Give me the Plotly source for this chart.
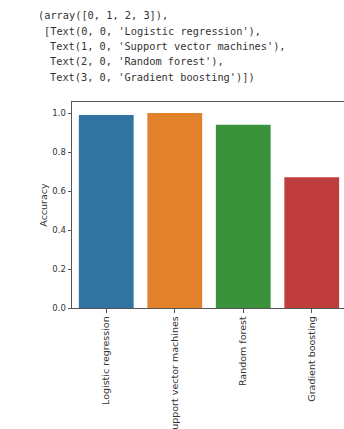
import plotly.graph_objects as go

models = ["Logistic regression", "Support vector machines", "Random forest", "Gradient boosting"]
accuracy = [0.99, 1.0, 0.94, 0.67]
colors = ["#3274a1", "#e1812c", "#3a923a", "#c03d3e"]
yticks = [0.0, 0.2, 0.4, 0.6, 0.8, 1.0]
output_lines = [
    "(array([0, 1, 2, 3]),",
    "[Text(0, 0, 'Logistic regression'),",
    "Text(1, 0, 'Support vector machines'),",
    "Text(2, 0, 'Random forest'),",
    "Text(3, 0, 'Gradient boosting')])",
]

W, H = 344, 429
L, R, T, B = 72, 0, 102, 121
pw, ph = W - L - R, H - T - B

def px_x(p):
    return (p - L) / pw

def px_y(p):
    return (H - B - p) / ph

fig = go.Figure(go.Bar(
    x=list(range(len(models))), y=accuracy, width=0.8,
    marker=dict(color=colors, line=dict(width=0)),
    hoverinfo="skip",
))

line_y = [15, 30.5, 46, 61.5, 77]
line_x = [36, 42.2, 48.4, 48.4, 48.4]
for txt, xx, yy in zip(output_lines, line_x, line_y):
    fig.add_annotation(text=txt, xref="paper", yref="paper", x=px_x(xx), y=px_y(yy),
                       xanchor="left", yanchor="middle", showarrow=False,
                       font=dict(family="DejaVu Sans Mono", size=10.3, color="#333333"))

fig.update_layout(
    width=W, height=H, margin=dict(l=L, r=R, t=T, b=B, autoexpand=False),
    paper_bgcolor="white", plot_bgcolor="white", showlegend=False,
    font=dict(family="DejaVu Sans", color="#333333"),
    bargap=0.2,
)
fig.update_xaxes(
    automargin=False,
    range=[-0.5, -0.5 + pw / 68.5], tickvals=list(range(len(models))), ticktext=models,
    tickangle=-90, ticks="outside", ticklen=3.5, tickcolor="#555", tickwidth=1,
    showline=True, linecolor="#555", linewidth=1, mirror=True, showgrid=False, zeroline=False,
    tickfont=dict(size=9.5, color="#333"),
)
fig.update_yaxes(
    automargin=False,
    range=[0, (H - B - T) / 195], tickvals=yticks, tickformat=".1f",
    ticks="outside", ticklen=3.5, tickcolor="#555", tickwidth=1,
    showline=True, linecolor="#555", linewidth=1, showgrid=False, zeroline=False,
    tickfont=dict(size=8.5, color="#333"),
    title=dict(text="Accuracy", font=dict(size=9.5, color="#333"), standoff=2),
)

fig.write_html("out.html", config={"displayModeBar": False, "staticPlot": True},
               post_script="document.body.style.margin='0';document.body.style.overflow='hidden';")
